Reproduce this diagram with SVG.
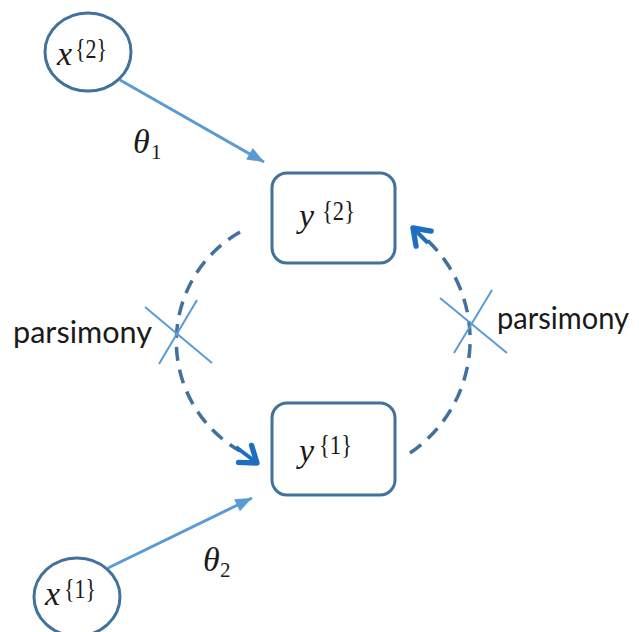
<svg xmlns="http://www.w3.org/2000/svg" width="639" height="632" viewBox="0 0 639 632">
<style>
.node{fill:#fff;stroke:#41719c;stroke-width:3}
.solid{fill:none;stroke:#5b9bd5;stroke-width:3}
.dash{fill:none;stroke:#41719c;stroke-width:3.5;stroke-dasharray:14 9}
.cross{stroke:#5b9bd5;stroke-width:2}
.m{font-family:"Liberation Serif","DejaVu Serif",serif;fill:#1a1a1a}
.mi{font-style:italic;font-size:34px}
.sup{font-size:27px}
.sub{font-size:21px}
.lbl{font-family:Lato,"Open Sans",sans-serif;font-size:31px;fill:#1a1a1a}
</style>
<defs>
<marker id="tri" markerUnits="userSpaceOnUse" markerWidth="20" markerHeight="20" viewBox="-16 -8 18 16" refX="0" refY="0" orient="auto">
<path d="M-15,-6 L0,0 L-15,6 Z" fill="#5b9bd5"/>
</marker>
<marker id="chev" markerUnits="userSpaceOnUse" markerWidth="30" markerHeight="30" viewBox="-20 -14 26 28" refX="0" refY="0" orient="auto">
<path d="M-14,-10 L0,0 L-14,10" fill="none" stroke="#1f6fc0" stroke-width="5" stroke-linecap="round" stroke-linejoin="round"/>
</marker>
</defs>
<g id="connectors">
<line class="solid" x1="120" y1="80" x2="264" y2="162" marker-end="url(#tri)"/>
<line class="solid" x1="108" y1="568" x2="252" y2="498" marker-end="url(#tri)"/>
<path class="dash" d="M240,232 A126,126 0 0 0 240,451"/>
<path d="M236,447 L257,463" fill="none" stroke="#1f6fc0" stroke-width="4" marker-end="url(#chev)"/>
<path class="dash" d="M410,453 A137,137 0 0 0 425,238"/>
<path d="M428,243 L413,228" fill="none" stroke="#1f6fc0" stroke-width="4" marker-end="url(#chev)"/>
<line class="cross" x1="145" y1="307" x2="212" y2="363"/>
<line class="cross" x1="197" y1="300" x2="159" y2="364"/>
<line class="cross" x1="440" y1="298" x2="507" y2="353"/>
<line class="cross" x1="492" y1="290" x2="454" y2="353"/>
</g>
<g id="x2">
<ellipse class="node" cx="88" cy="52" rx="43" ry="39"/>
<text class="m mi" x="57" y="65">x</text>
<text class="m sup" x="75" y="58" textLength="32" lengthAdjust="spacingAndGlyphs">{2}</text>
</g>
<g id="x1">
<ellipse class="node" cx="77" cy="597" rx="43" ry="39"/>
<text class="m mi" x="45" y="605">x</text>
<text class="m sup" x="64" y="598" textLength="32" lengthAdjust="spacingAndGlyphs">{1}</text>
</g>
<g id="y2">
<rect class="node" x="272" y="173" width="123" height="90" rx="15"/>
<text class="m mi" x="299" y="227">y</text>
<text class="m sup" x="322" y="220" textLength="33" lengthAdjust="spacingAndGlyphs">{2}</text>
</g>
<g id="y1">
<rect class="node" x="272" y="403" width="123" height="92" rx="15"/>
<text class="m mi" x="299" y="462">y</text>
<text class="m sup" x="319" y="454" textLength="33" lengthAdjust="spacingAndGlyphs">{1}</text>
</g>
<g id="labels">
<text class="m mi" x="133" y="153">θ</text>
<text class="m sub" x="151" y="159">1</text>
<text class="m mi" x="203" y="571">θ</text>
<text class="m sub" x="220" y="577">2</text>
<text class="lbl" x="13" y="343" textLength="139" lengthAdjust="spacingAndGlyphs">parsimony</text>
<text class="lbl" x="497" y="329" textLength="132" lengthAdjust="spacingAndGlyphs">parsimony</text>
</g>
</svg>
